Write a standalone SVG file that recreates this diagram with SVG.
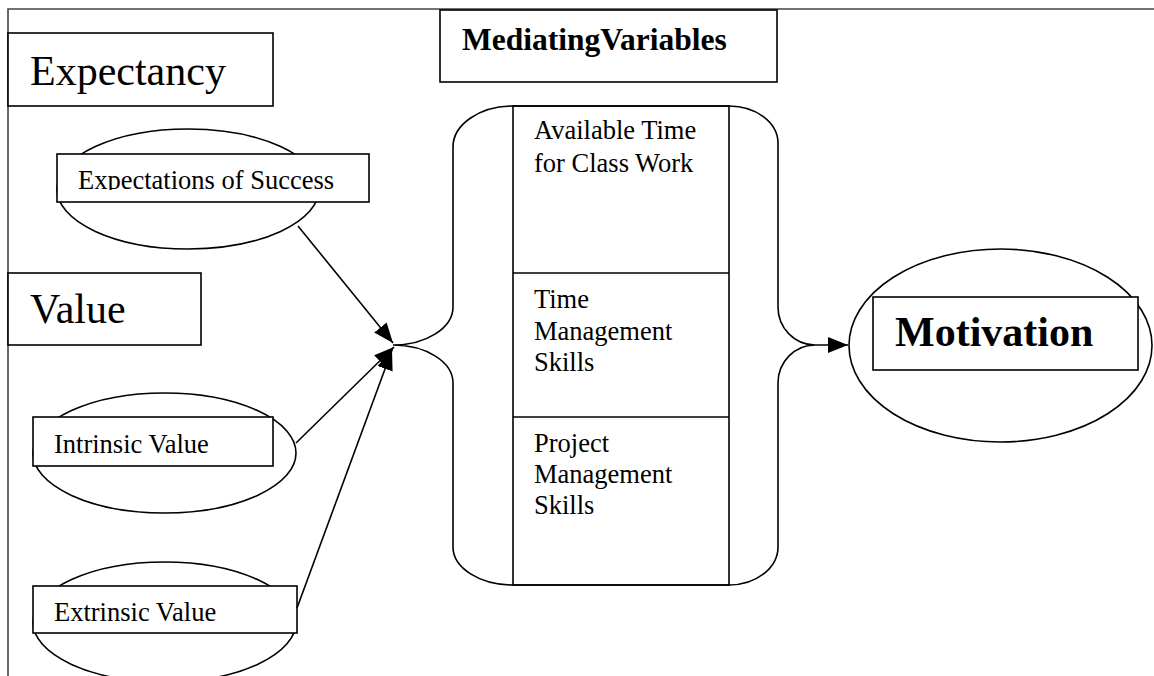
<svg xmlns="http://www.w3.org/2000/svg" width="1154" height="676" viewBox="0 0 1154 676">
<style>
.s{fill:none;stroke:#000;stroke-width:1.6}
.b{fill:#fff;stroke:#000;stroke-width:1.6}
.t{font-family:"Liberation Serif","Times New Roman",serif;fill:#000}
.big{font-size:42px}
.med{font-size:26.5px}
.bold{font-weight:bold}
</style>
<defs>
<marker id="ah" viewBox="0 0 20 16" refX="20" refY="8" markerWidth="20" markerHeight="16" markerUnits="userSpaceOnUse" orient="auto">
<path d="M0,0 L20,8 L0,16 z" fill="#000"/>
</marker>
<clipPath id="clipExp"><rect x="57" y="154" width="312" height="36"/></clipPath>
</defs>
<rect width="1154" height="676" fill="#fff"/>
<g id="frame">
<path d="M8 676 L8 9 L1154 9" fill="none" stroke="#444" stroke-width="1.6"/>
</g>
<g id="expectancy">
<rect class="b" x="8" y="33" width="265" height="73"/>
<text class="t big" x="30" y="85">Expectancy</text>
</g>
<g id="value">
<rect class="b" x="8" y="273" width="193" height="72"/>
<text class="t big" x="30" y="323">Value</text>
</g>
<g id="mediating-title">
<rect class="b" x="440" y="10" width="337" height="72"/>
<text class="t bold" x="462" y="50" style="font-size:31.5px">MediatingVariables</text>
</g>
<g id="expectations">
<ellipse class="b" cx="188" cy="189" rx="131" ry="60"/>
<rect class="b" x="57" y="154" width="312" height="48"/>
<text class="t med" x="78" y="189" clip-path="url(#clipExp)">Expectations of Success</text>
</g>
<g id="intrinsic">
<ellipse class="b" cx="164.5" cy="453" rx="131.5" ry="60"/>
<rect class="b" x="33" y="417" width="240" height="49"/>
<text class="t med" x="54" y="453">Intrinsic Value</text>
</g>
<g id="extrinsic">
<ellipse class="b" cx="164.5" cy="622" rx="131.5" ry="60"/>
<rect class="b" x="33" y="586" width="264" height="47"/>
<text class="t med" x="54" y="621">Extrinsic Value</text>
</g>
<g id="mediators">
<path class="s" d="M513 106 A60 41 0 0 0 453 147 L453 307 A60 38 0 0 1 393 345 A60 38 0 0 1 453 383 L453 547 A60 38 0 0 0 513 585 L729 585 A49 38 0 0 0 778 547 L778 383 A37 38 0 0 1 815 345 A37 38 0 0 1 778 307 L778 143 A49 37 0 0 0 729 106 Z"/>
<rect class="s" x="513" y="106" width="216" height="479"/>
<line class="s" x1="513" y1="273" x2="729" y2="273"/>
<line class="s" x1="513" y1="417" x2="729" y2="417"/>
<text class="t med" x="534" y="139">Available Time</text>
<text class="t med" x="534" y="172">for Class Work</text>
<text class="t med" x="534" y="308">Time</text>
<text class="t med" x="534" y="339.5">Management</text>
<text class="t med" x="534" y="371">Skills</text>
<text class="t med" x="534" y="452">Project</text>
<text class="t med" x="534" y="483">Management</text>
<text class="t med" x="534" y="514">Skills</text>
</g>
<g id="motivation">
<ellipse class="b" cx="1000.5" cy="345.5" rx="151.5" ry="96.5"/>
<rect class="b" x="873" y="297" width="265" height="73"/>
<text class="t big bold" x="895" y="346">Motivation</text>
</g>
<g id="connectors">
<line class="s" x1="298" y1="226" x2="393" y2="343" marker-end="url(#ah)"/>
<line class="s" x1="296" y1="443" x2="394" y2="347" marker-end="url(#ah)"/>
<line class="s" x1="297" y1="608" x2="392" y2="350" marker-end="url(#ah)"/>
<line class="s" x1="815" y1="345" x2="848" y2="345" marker-end="url(#ah)"/>
</g>
</svg>
